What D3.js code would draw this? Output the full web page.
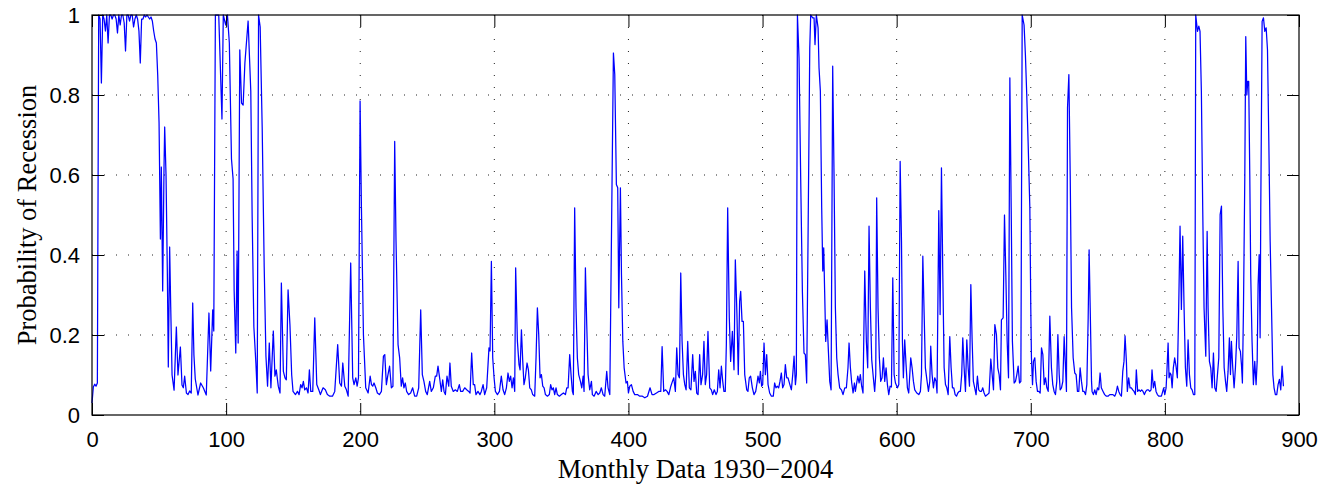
<!DOCTYPE html>
<html><head><meta charset="utf-8">
<script src="https://cdn.jsdelivr.net/npm/d3@7/dist/d3.min.js"></script>
<style>html,body{margin:0;padding:0;background:#fff}svg{display:block}</style>
</head><body>
<svg id="chart" width="1329" height="488"></svg>
<script>
const xTicks = [0,100,200,300,400,500,600,700,800,900];
const yTicks = [0,0.2,0.4,0.6,0.8,1];
const yTickLabels = ["0","0.2","0.4","0.6","0.8","1"];
const xTitle = "Monthly Data 1930\u22122004";
const yTitle = "Probability of Recession";

// [month index, probability of recession]
const readings = [
[0,.03],[1,.07],[2,.077],[3,.072],[4,.08],[5,1],[6,.99],[7,.83],[8,1],[9,.99],[10,.96],[11,1],[12,.93],[13,1],[14,1],[15,.99],[16,1],[17,1],[18,.99],[19,.955],[20,1],[21,.975],[22,1],[23,1],[24,.98],[25,.91],[26,1],[27,1],[28,.985],[29,1],[30,1],[31,.97],[32,.99],[33,1],[34,.99],[35,.96],[36,.88],[37,.99],[38,.99],[39,1],[40,.995],[41,1],[42,.995],[43,.99],[44,.995],[45,.985],[46,.96],[47,.94],[48,.93],[49,.85],[50,.73],[51,.44],[51.7,.62],[52.7,.31],[53.7,.62],[54.2,.72],[55.2,.6],[56.2,.35],[56.9,.12],[57.9,.42],[58.7,.27],[59.7,.1],[61.2,.062],[62.9,.22],[64.1,.1],[65.9,.17],[67.1,.075],[68.1,.068],[69.1,.097],[70.4,.055],[71.6,.051],[72.8,.06],[74,.055],
[75.1,.28],[76,.15],[77,.09],[79,.05],[81,.08],[83,.068],[85.2,.05],[87.2,.255],[88.5,.11],[90,.263],[90.8,.21],[92,1],[94.5,1],[96.9,.74],[97.9,1],[99.7,.975],[101,1],[102.4,.93],[104,.64],[105.2,.59],[106,.31],[107.2,.155],[108.2,.41],[109,.18],[110.2,.913],[111.5,.78],[112.7,.775],[114,.88],[116.4,.985],[118.4,.81],[119.4,.5],[120.7,.22],[122.2,.13],[123.2,.055],[124.2,1],[125.4,.97],[126.9,.72],[128.4,.37],[129.7,.147],[130.9,.072],[132.2,.18],[133.4,.068],[135.2,.21],[136.4,.097],[137.4,.113],[138.9,.072],[140.2,.055],[141.2,.33],[142.7,.109],[143.9,.093],[144.9,.088],[146.2,.313],[147.6,.225],[148.9,.1],
[149.9,.059],[151.7,.051],[153.2,.059],[154.4,.051],[155.6,.076],[156.6,.068],[157.6,.084],[158.6,.063],[159.9,.068],[161.1,.055],[162.1,.113],[163.1,.059],[164.6,.059],[166.1,.243],[167.6,.076],[169.1,.063],[170.3,.051],[172.3,.068],[174,.063],[175.5,.051],[177.3,.047],[179.3,.047],[181,.059],[183.2,.176],[184.7,.08],[186,.072],[187,.13],[188.5,.072],[189.7,.063],[191,.047],[192.9,.38],[194.4,.093],[195.4,.076],[196.7,.093],[197.7,.072],[198.7,.093],[199.9,.785],[200.9,.52],[202.4,.2],[204.1,.068],[205.9,.055],[207.4,.097],[208.4,.076],[209.3,.072],[210.3,.08],[211.6,.068],[212.8,.055],[214.3,.051],[215.8,.059],[217.3,.147],[218.3,.151],[219.5,.076],[220.5,.097],
[221.9,.122],[223.2,.068],[224.4,.072],[225.7,.684],[226.7,.434],[228.2,.176],[229.4,.143],[230.6,.072],[231.6,.093],[232.6,.068],[233.6,.08],[234.6,.059],[236.1,.051],[237.6,.055],[239.1,.068],[240.6,.047],[242.1,.047],[243.6,.068],[245.1,.263],[246.3,.101],[247.5,.084],[248.8,.059],[250,.051],[251.8,.084],[253,.059],[254.5,.068],[256,.097],[257,.097],[258,.122],[259.2,.093],[260.5,.059],[261.5,.088],[262.5,.059],[263.5,.051],[264.7,.097],[266,.072],[266.9,.13],[267.9,.072],[269.4,.059],[270.9,.063],[272.4,.059],[273.9,.076],[274.9,.059],[276.4,.059],[277.9,.068],[279.4,.063],[280.9,.059],[281.9,.055],[283.1,.155],[284.3,.076],[285.3,.076],[286.3,.051],[287.8,.059],[289.3,.051],[290.3,.059],[291.6,.076],[292.8,.051],[294.3,.068],[295.3,.126],[296,.168],[296.8,.16],[297.8,.384],
[298.8,.143],[299.8,.093],[300.8,.059],[302.3,.051],[303.8,.059],[305.2,.097],[306.5,.063],[307.7,.051],[309,.068],[310.2,.105],[311.2,.084],[312.2,.097],[313.2,.068],[314.2,.093],[315.2,.059],[315.9,.368],[317.2,.184],[318.4,.126],[319.2,.113],[320.2,.213],[321.2,.134],[322.1,.076],[323.1,.093],[324.4,.13],[325.4,.113],[326.4,.068],[327.6,.063],[328.6,.051],[330.1,.047],[331.1,.143],[332.1,.268],[333.1,.201],[334.1,.093],[335.1,.101],[336.1,.072],[337.1,.068],[338.1,.051],[339.6,.047],[341,.051],[342,.076],[343,.063],[344,.068],[345,.051],[346,.068],[347,.051],[348.5,.047],[350,.051],[351.5,.055],[353,.051],[354,.068],[355,.068],[356.2,.151],[357.2,.101],[358.2,.059],[358.9,.051],[359.9,.518],[360.9,.268],[361.9,.143],[362.9,.101],[364.2,.084],[365.2,.068],[366.2,.097],[366.9,.059],[367.9,.368],[368.9,.226],[369.9,.101],[371.1,.063],[372.4,.084],
[373.1,.051],[374.4,.047],[375.9,.059],[377.4,.051],[378.6,.055],[379.8,.068],[381.1,.051],[382.3,.047],[383.8,.109],[384.8,.068],[386.1,.051],[387.3,.434],[388.8,.905],[389.8,.851],[391,.576],[392,.568],[392.8,.268],[394,.568],[394.8,.351],[395.8,.184],[396.8,.118],[398.2,.08],[399.2,.084],[400,.055],[401,.072],[402.2,.076],[403.5,.059],[404.7,.051],[406.7,.051],[408.4,.047],[410.4,.047],[412.2,.043],[414.2,.047],[416.1,.068],[417.6,.051],[419.1,.051],[420.9,.055],[422.6,.059],[424.1,.059],[425.1,.171],[426.3,.059],[427.6,.063],[428.8,.059],[430.1,.051],[431.6,.072],[432.8,.084],[433.8,.093],[435,.059],[436,.168],[437,.101],[438,.093],[439,.355],[440,.184],[441,.101],[442,.076],[443,.063],[444.2,.184],[445.4,.068],[446.6,.063],
[447.9,.151],[448.9,.084],[449.9,.109],[450.9,.055],[451.9,.051],[453.1,.151],[454.1,.076],[455.3,.101],[456.3,.184],[457.3,.076],[458.3,.101],[459.3,.209],[460.6,.068],[461.8,.063],[462.8,.051],[464,.063],[465.3,.051],[466.3,.059],[467.3,.113],[468.3,.068],[469.3,.122],[470.3,.084],[471.2,.059],[472.2,.059],[473,.176],[474,.518],[475.2,.243],[476.2,.134],[477.5,.209],[478.7,.113],[479.7,.388],[480.9,.251],[481.9,.101],[482.9,.284],[483.7,.309],[484.7,.234],[485.7,.234],[486.7,.101],[488.2,.063],[489.1,.059],[490.1,.093],[491.1,.097],[492.4,.068],[493.6,.051],[494.9,.059],[495.9,.08],[496.6,.097],[497.6,.08],[498.4,.109],[499.3,.072],[500.1,.076],[501.1,.18],[502.1,.101],[503.1,.151],[504.1,.076],[505.3,.055],[506.6,.047],[508,.047],[509,.08],[510,.068],[511,.072],[512,.068],[513,.084],[514,.105],[515,.068],[516,.076],[517,.126],[518,.093],[519,.093],[520.2,.078],[521.5,.063],
[522.5,.101],[523.5,.147],[524.5,.076],[525.2,.101],[526,1],[527.2,.892],[528.4,.6],[529.7,.309],[530.9,.155],[531.9,.151],[532.9,.08],[533.9,.434],[535.2,.918],[535.9,1],[537.4,.993],[538.4,.993],[539.1,.926],[540.1,1],[541.4,.968],[542.1,.868],[543.1,.81],[544.1,.518],[544.9,.36],[545.6,.418],[546.3,.309],[547.1,.184],[548.1,.238],[549.1,.159],[550.1,.084],[551.1,.063],[552.3,.872],[553.3,.6],[554.3,.268],[555.3,.143],[556.3,.101],[557.5,.068],[558.8,.063],[560,.051],[561.3,.068],[562.5,.068],[563.7,.118],[564.5,.18],[565.5,.118],[566.5,.08],[567.5,.055],[568.5,.08],[569.2,.059],[570,.076],[571,.097],[572,.08],[572.9,.101],[573.9,.072],[574.9,.055],[576.2,.36],[577.4,.184],[578.4,.118],[579.4,.472],[580.4,.268],[581.4,.138],[582.6,.093],[583.6,.059],[584.4,.101],[585.1,.543],[586.1,.268],[587.1,.143],[588.1,.084],[589.1,.093],[590.1,.143],[591.1,.084],[592.1,.118],[593.1,.076],[594.1,.051],[595.1,.072],[596.1,.07],
[597.1,.343],[598.1,.101],[599.1,.08],[600.6,.068],[601.6,.076],[602.6,.634],[603.6,.434],[604.3,.184],[605,.093],[606,.188],[607,.126],[608,.068],[609,.055],[610.5,.143],[611.5,.118],[612.5,.084],[613.5,.063],[615,.055],[616.5,.051],[617.7,.059],[618.5,.101],[619.5,.397],[620.5,.251],[621.4,.118],[622.7,.084],[623.7,.059],[624.7,.084],[625.4,.172],[626.4,.101],[627.4,.068],[628.4,.093],[629.4,.084],[630.1,.055],[631.4,.511],[632.4,.251],[633.4,.618],[634.4,.351],[635.4,.118],[636.4,.076],[637.4,.068],[638.4,.051],[639.6,.196],[640.6,.118],[641.6,.068],[642.6,.068],[643.6,.051],[644.6,.047],[645.6,.055],[646.6,.059],[647.5,.059],[648.5,.101],[649.3,.193],[650.3,.118],[651.3,.059],[652.3,.188],[653.3,.118],[654.3,.072],[655.3,.326],[656.3,.184],[657.2,.084],[658.2,.068],[659.2,.051],[660.2,.097],[661.2,.063],[662.2,.059],[663.2,.059],[664.2,.068],[665.2,.055],[666.2,.047],[667.7,.051],[668.9,.055],[670.2,.14],
[671.2,.101],[672.2,.063],[673.2,.226],[674.4,.201],[675.4,.118],[676.4,.101],[677.4,.063],[678.1,.238],[679.4,.243],[680.4,.5],[681.4,.351],[682.4,.184],[683.4,.093],[684.4,.843],[685.4,.518],[686.3,.184],[687.6,.08],[688.6,.084],[689.6,.101],[690.6,.122],[691.6,.08],[692.6,.084],[693.6,1],[695,.975],[696,.9],[697,.8],[698,.684],[699.3,.518],[700,.268],[700.5,.143],[701.3,.076],[702,.134],[703,.143],[704,.084],[705,.059],[706,.059],[707,.055],[708,.168],[709,.151],[710,.076],[711,.093],[712,.068],[713,.059],[714.2,.247],[715.4,.118],[716.4,.076],[717.4,.059],[718.4,.051],[719.4,.084],[720.2,.201],[721.2,.101],[721.9,.063],[722.9,.068],[723.9,.084],[724.9,.196],[725.9,.118],[726.6,.059],[727.4,.768],[728.4,.851],[729.4,.6],[730.4,.268],[731.6,.143],[732.8,.105],[733.8,.101],[734.8,.059],[735.8,.059],[736.8,.118],[737.8,.084],[738.8,.059],[739.8,.059],[740.8,.051],[741.8,.076],[742.8,.243],[743.5,.413],[744.3,.268],[745.3,.084],
[745.7,.059],[746.7,.051],[747.7,.063],[748.7,.051],[749.7,.068],[750.7,.063],[751.7,.105],[752.6,.068],[753.9,.059],[755.1,.051],[756.4,.047],[757.6,.047],[758.9,.051],[760.1,.051],[761.3,.051],[762.6,.047],[763.6,.055],[764.6,.072],[765.6,.059],[766.6,.051],[767.6,.047],[768.6,.109],[769.5,.134],[770.3,.198],[771.3,.134],[772,.059],[773,.093],[774,.068],[775,.068],[776,.063],[777,.059],[778,.051],[778.7,.113],[779.7,.059],[780.7,.063],[781.7,.059],[782.7,.063],[783.7,.059],[784.7,.051],[785.7,.059],[786.7,.063],[787.7,.063],[788.7,.059],[789.7,.063],[790.4,.113],[791.4,.068],[792.4,.084],[793.4,.059],[794.4,.051],[795.4,.047],[796.4,.047],[797.4,.047],[798.4,.059],[799.1,.068],[799.9,.051],[800.9,.068],[801.4,.101],[802.4,.18],[803.1,.093],[803.9,.105],[804.6,.101],[805.4,.068],[806.3,.118],[807.3,.143],[808.3,.122],[809.3,.093],[810.3,.268],[811.3,.472],[812.3,.264],[813.3,.447],[814.3,.268],[815.3,.118],[816.3,.072],[817.3,.188],[818.3,.101],[819.3,.068],
[820.3,.063],[821.3,.051],[822.3,.051],[823,1],[824.3,.959],[825.3,.972],[826.2,.959],[827.2,.81],[828.2,.518],[829.2,.268],[830.5,.147],[831.5,.459],[832.2,.268],[833.2,.134],[834.2,.118],[835.2,.068],[836.2,.155],[837.2,.068],[838.2,.059],[839.2,.101],[840.2,.143],[841.2,.501],[842.2,.522],[843.2,.268],[844.2,.118],[845.2,.084],[846.1,.059],[847.1,.109],[848.1,.193],[848.9,.101],[849.6,.184],[850.6,.118],[851.6,.068],[852.6,.118],[853.6,.196],[854.6,.384],[855.3,.168],[856.3,.159],[857.1,.126],[857.8,.08],[858.6,.268],[859.6,.6],[860.3,.946],[861.1,.8],[861.8,.834],[862.5,.834],[863.3,.6],[864,.351],[865,.184],[866,.076],[867,.134],[868,.076],[868.8,.134],[869.5,.326],[870.3,.401],[871,.193],[871.5,.518],[872.5,.984],[873.5,.993],[874.5,.959],[875.5,.968],[876.5,.913],[877.5,.684],[878.5,.434],[879.5,.268],[880.5,.101],[881.4,.068],[882.4,.051],[883.4,.051],[884.4,.076],[885.4,.089],[886.4,.063],[887.4,.122],[888.4,.072]
];

const W = 1329, H = 488;
const mg = {left: 92, right: 30, top: 15, bottom: 73};
const iw = W - mg.left - mg.right, ih = H - mg.top - mg.bottom;
const svg = d3.select("#chart");
const g = svg.append("g").attr("transform", `translate(${mg.left},${mg.top})`);

const x = d3.scaleLinear().domain([0, 900]).range([0, iw]);
const y = d3.scaleLinear().domain([0, 1]).range([ih, 0]);

// dotted grid
g.append("g").selectAll("line").data(xTicks.slice(1, -1)).join("line")
  .attr("x1", d => x(d)).attr("x2", d => x(d)).attr("y1", 0).attr("y2", ih)
  .attr("stroke", "#222").attr("stroke-width", 1).attr("stroke-dasharray", "1,11");
g.append("g").selectAll("line").data(yTicks.slice(1, -1)).join("line")
  .attr("y1", d => y(d)).attr("y2", d => y(d)).attr("x1", 0).attr("x2", iw)
  .attr("stroke", "#222").attr("stroke-width", 1).attr("stroke-dasharray", "1,11");

// data line
const line = d3.line().x(d => x(d[0])).y(d => y(d[1]));
g.append("path").datum(readings).attr("d", line)
  .attr("fill", "none").attr("stroke", "#0000ff").attr("stroke-width", 1.25)
  .attr("stroke-linejoin", "round");

// axes with inward ticks
const tickFont = "'Liberation Sans', Arial, Helvetica, sans-serif";
const axBottom = g.append("g").attr("transform", `translate(0,${ih})`)
  .call(d3.axisBottom(x).tickValues(xTicks).tickSizeInner(-12).tickSizeOuter(0).tickPadding(16));
const axLeft = g.append("g")
  .call(d3.axisLeft(y).tickValues(yTicks).tickFormat((d, i) => yTickLabels[i]).tickSizeInner(-12).tickSizeOuter(0).tickPadding(12));
const axTop = g.append("g")
  .call(d3.axisTop(x).tickValues(xTicks).tickFormat("").tickSizeInner(-12).tickSizeOuter(0));
const axRight = g.append("g").attr("transform", `translate(${iw},0)`)
  .call(d3.axisRight(y).tickValues(yTicks).tickFormat("").tickSizeInner(-12).tickSizeOuter(0));
[axBottom, axLeft, axTop, axRight].forEach(a => {
  a.select(".domain").remove();
  a.selectAll(".tick line").attr("stroke", "#000").attr("stroke-width", 1);
  a.selectAll("text").attr("font-family", tickFont).attr("font-size", 22).attr("fill", "#000");
});

// box
g.append("rect").attr("x", 0).attr("y", 0).attr("width", iw).attr("height", ih)
  .attr("fill", "none").attr("stroke", "#000").attr("stroke-width", 1.2);

// titles
const serif = "'Liberation Serif', 'Times New Roman', Times, serif";
svg.append("text").attr("x", mg.left + iw / 2).attr("y", 478)
  .attr("text-anchor", "middle").attr("font-family", serif).attr("font-size", 26.5)
  .attr("fill", "#000").text(xTitle);
svg.append("text").attr("transform", `translate(36,${mg.top + ih / 2}) rotate(-90)`)
  .attr("text-anchor", "middle").attr("font-family", serif).attr("font-size", 26.5)
  .attr("fill", "#000").text(yTitle);
</script>
</body></html>
